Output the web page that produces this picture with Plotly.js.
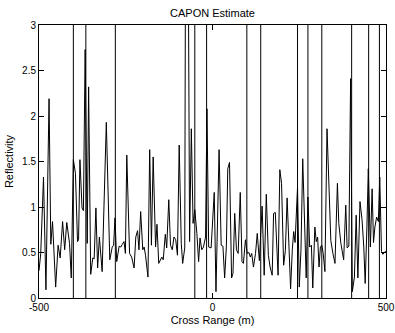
<!DOCTYPE html>
<html>
<head>
<meta charset="utf-8">
<script src="https://cdn.plot.ly/plotly-3.0.1.min.js"></script>
<style>html,body{margin:0;padding:0;background:#fff;}#chart{width:395px;height:333px;}</style>
</head>
<body>
<div id="chart"></div>
<script>
// Cross range positions (m) of the estimate's vertices
const crossRange = [
  -500,-495,-487,-480,-471,-466,-461,-452,-445,-439,-432,-426,-420,-412,-407,-401,-395,-389,-386,-382,
  -376,-372,-367,-361,-357,-351,-345,-341,-336,-331,-326,-318,-306,-296,-289,-285,-281,-276,-269,-264,
  -260,-255,-251,-247,-239,-233,-226,-221,-216,-212,-207,-201,-197,-193,-186,-181,-176,-171,-164,-160,
  -155,-150,-146,-142,-136,-132,-126,-121,-116,-111,-106,-101,-96,-90,-86,-80,-75,-66,-61,-56,
  -51,-45,-40,-36,-31,-26,-20,-16,-11,-4,
  5,10,19,25,30,35,40,44,49,55,59,64,69,74,80,85,89,95,100,105,
  109,113,118,124,129,135,143,149,155,161,166,172,176,181,185,189,194,199,205,210,
  215,221,225,230,234,238,245,250,255,260,265,270,275,280,285,289,295,299,303,307,
  311,315,319,324,330,337,341,347,353,360,364,370,378,384,388,393,398,403,409,414,
  419,425,431,436,440,445,449,455,460,464,468,473,478,482,487,491,496,500
];
// CAPON reflectivity estimate
const reflectivity = [
  0.30,0.49,1.33,0.09,2.19,0.59,0.84,0.12,0.58,0.44,0.84,0.53,0.83,0.60,0.22,1.52,1.37,0.62,0.64,1.52,
  0.99,0.96,2.73,0.60,2.32,0.26,0.44,0.43,0.99,0.33,0.67,0.29,1.93,0.42,0.56,0.58,0.88,0.40,0.57,0.56,
  0.59,0.62,0.49,1.57,0.49,0.45,0.33,0.67,0.74,0.53,0.95,0.53,0.56,0.47,0.23,1.63,0.58,1.55,0.56,0.81,
  0.38,0.42,0.45,0.42,0.70,0.55,1.08,0.58,0.53,0.67,0.64,0.47,1.68,0.60,0.38,0.55,8.0,0.62,1.86,0.82,
  0.97,0.71,0.40,0.66,0.53,0.56,0.67,2.08,0.56,0.55,
  1.16,0.07,1.63,0.58,0.57,0.22,0.57,1.42,1.49,0.22,0.27,0.93,0.53,0.49,1.16,0.40,0.38,0.64,0.49,0.50,
  0.45,0.49,0.34,0.49,0.71,0.41,1.01,0.25,1.14,0.47,0.34,0.25,0.93,0.94,0.49,0.25,1.41,1.26,0.36,0.52,
  1.10,0.42,0.10,0.53,0.73,0.61,1.22,0.12,0.53,1.53,0.89,0.22,1.11,0.56,0.58,0.11,0.78,0.62,0.67,0.34,
  0.56,0.58,0.49,0.29,1.86,1.15,0.63,0.49,0.38,1.26,0.82,0.60,0.42,1.02,0.55,0.57,2.41,0.07,0.23,0.91,
  0.22,1.06,0.86,0.56,0.16,0.78,1.42,0.56,1.20,0.61,0.78,0.89,0.84,1.33,0.51,0.48,0.50,0.52
];
// True target positions (m), drawn as full-height vertical lines
const targets = [-401,-365,-280,-51,-17,99,139,245,275,315,401,450,481];
const yRange = [0, 3];
const xRange = [-500, 500];
const xTicks = [-500, 0, 500];
const yTicks = [0, 0.5, 1, 1.5, 2, 2.5, 3];

const tx = [], ty = [];
targets.forEach(p => { tx.push(p, p, null); ty.push(yRange[0], yRange[1], null); });

const font = {family: 'Liberation Sans, Arial, Helvetica, sans-serif', color: '#000'};

Plotly.newPlot('chart', [
  {x: tx, y: ty, mode: 'lines', line: {color: '#000', width: 1}, hoverinfo: 'skip'},
  {x: crossRange, y: reflectivity, mode: 'lines', line: {color: '#000', width: 1}}
], {
  width: 395, height: 333,
  margin: {l: 39, r: 9, t: 25, b: 35},
  showlegend: false,
  paper_bgcolor: '#fff', plot_bgcolor: '#fff',
  font: Object.assign({size: 10}, font),
  title: {text: 'CAPON Estimate', font: Object.assign({size: 11}, font), x: 0.5, xref: 'paper', xanchor: 'center', y: 1 - 13/333, yref: 'container', yanchor: 'middle'},
  xaxis: {
    range: xRange, tickvals: xTicks, ticktext: xTicks.map(String),
    ticks: 'inside', ticklen: 5, tickcolor: '#000', showline: true, linecolor: '#000', linewidth: 1,
    mirror: 'ticks', showgrid: false, zeroline: false,
    tickfont: Object.assign({size: 10}, font),
    title: {text: 'Cross Range (m)', font: Object.assign({size: 11}, font), standoff: 4}
  },
  yaxis: {
    range: yRange, tickvals: yTicks, ticktext: yTicks.map(String),
    ticks: 'inside', ticklen: 5, tickcolor: '#000', showline: true, linecolor: '#000', linewidth: 1,
    mirror: 'ticks', showgrid: false, zeroline: false,
    tickfont: Object.assign({size: 10}, font),
    title: {text: 'Reflectivity', font: Object.assign({size: 11}, font), standoff: 6}
  }
}, {staticPlot: true, displayModeBar: false});
</script>
</body>
</html>
